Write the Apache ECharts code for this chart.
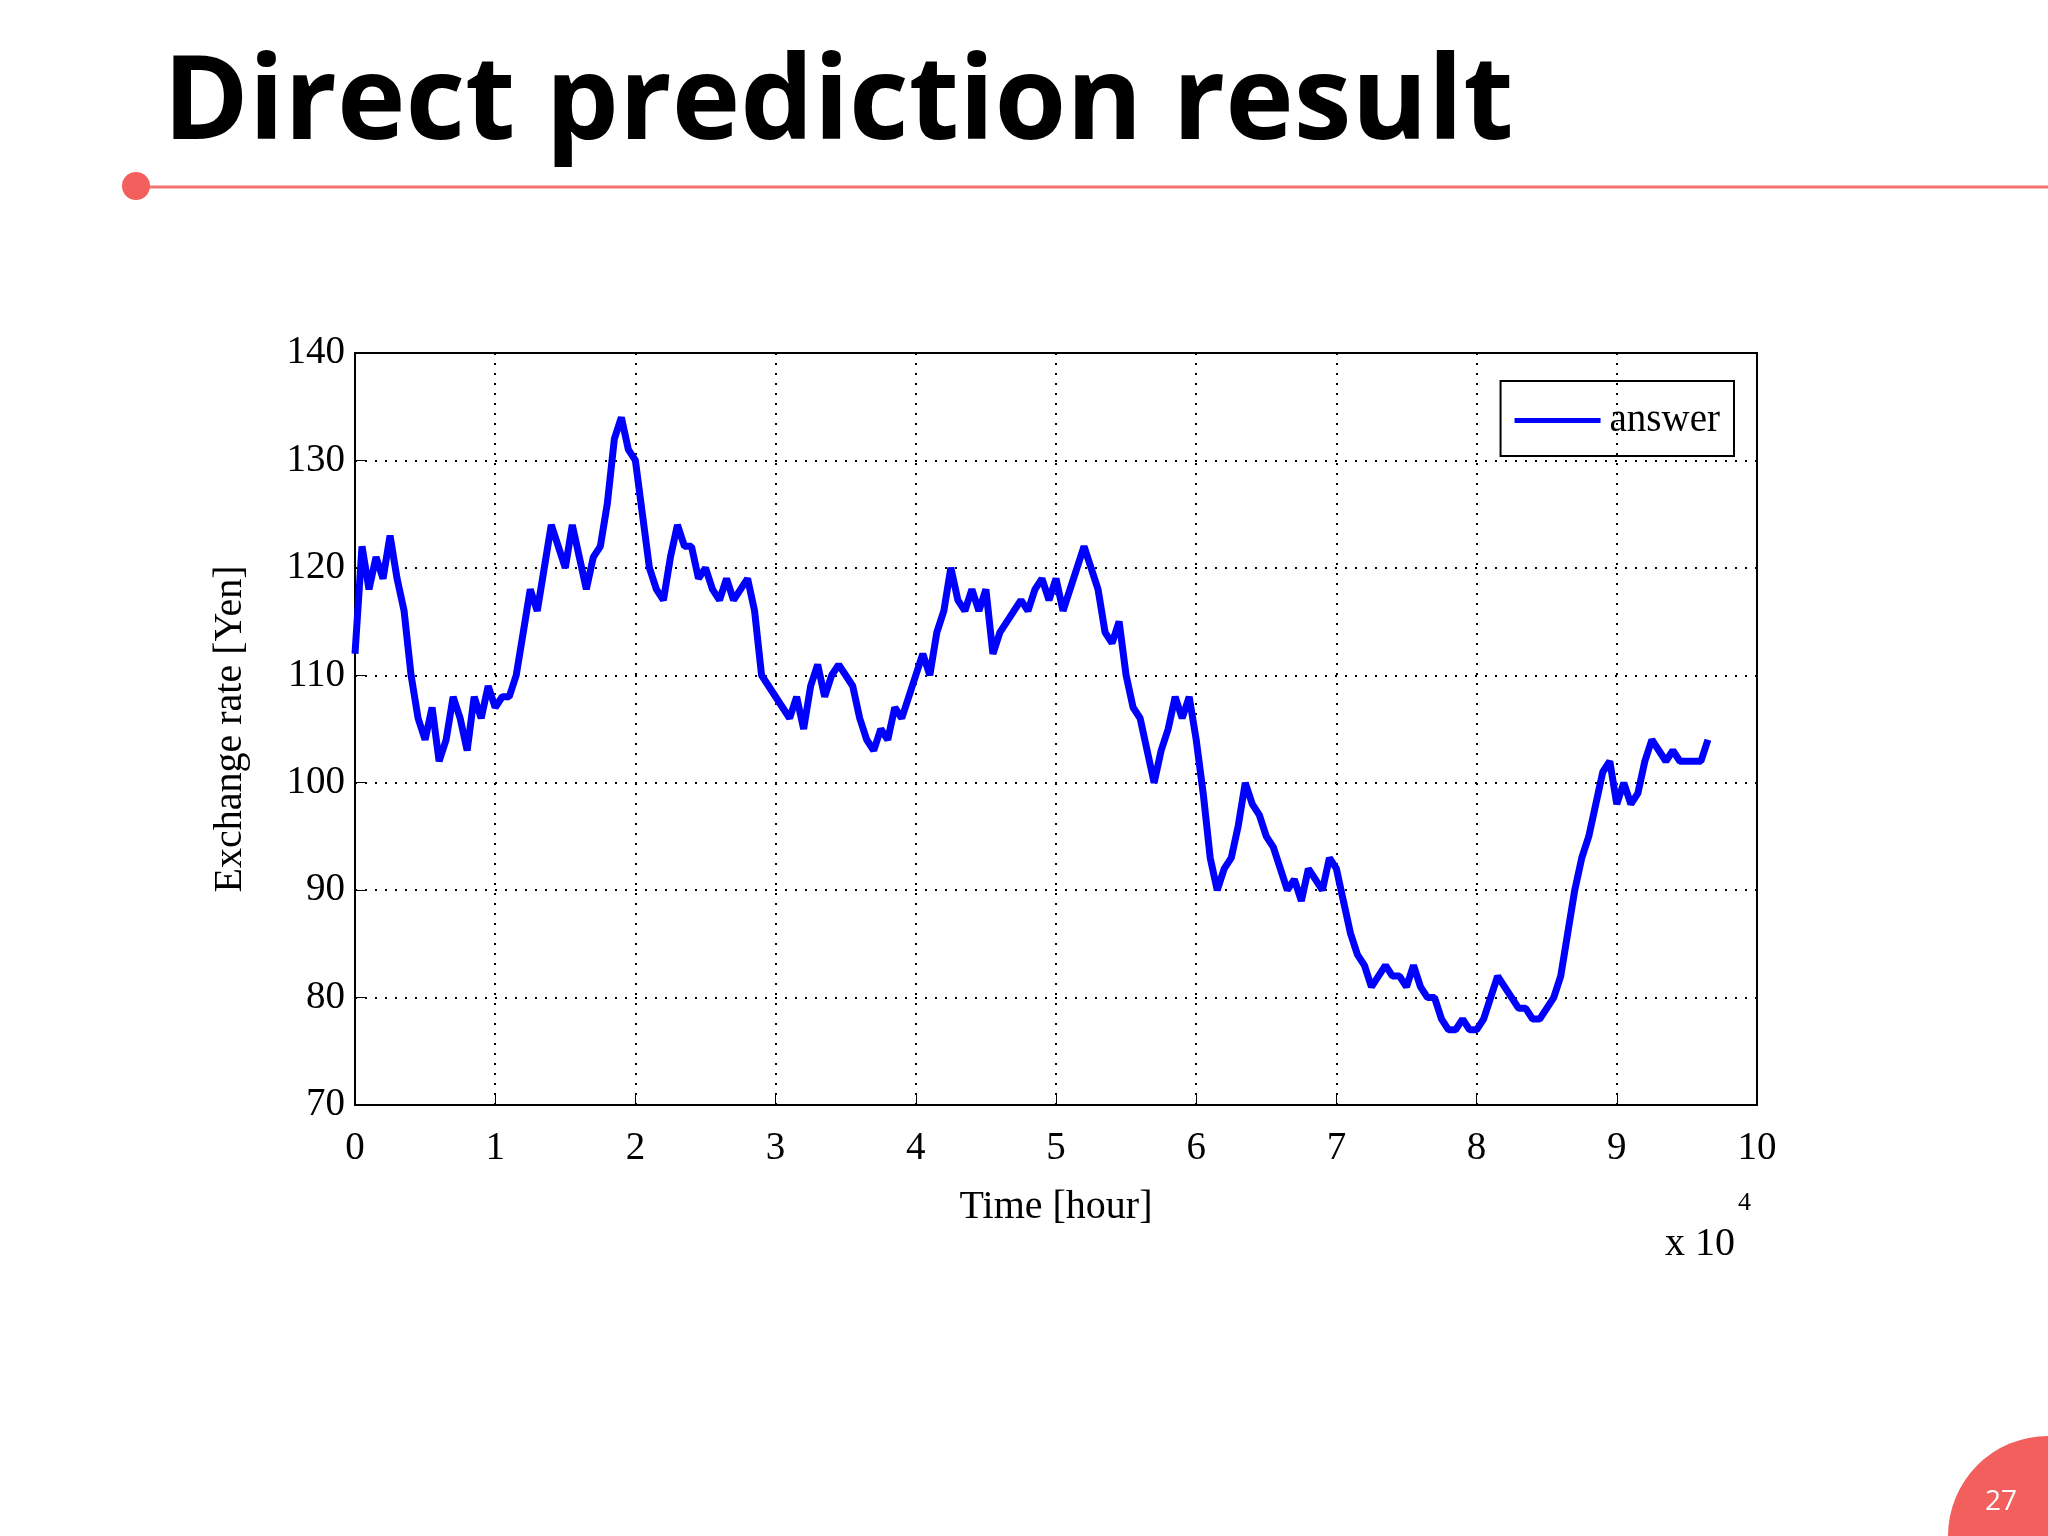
<!DOCTYPE html>
<html><head><meta charset="utf-8">
<script src="https://cdn.jsdelivr.net/npm/echarts@6/dist/echarts.min.js"></script>
<style>html,body{margin:0;padding:0;background:#fff}#c{width:2048px;height:1536px}</style>
</head><body><div id="c"></div>
<script>
const xStep = 0.05;
const answer = [112,122,118,121,119,123,119,116,110,106,104,107,102,104,108,106,103,108,106,109,
107,108,108,110,114,118,116,120,124,122,120,124,121,118,121,122,126,132,134,131,
130,125,120,118,117,121,124,122,122,119,120,118,117,119,117,118,119,116,110,109,
108,107,106,108,105,109,111,108,110,111,110,109,106,104,103,105,104,107,106,108,
110,112,110,114,116,120,117,116,118,116,118,112,114,115,116,117,116,118,119,117,
119,116,118,120,122,120,118,114,113,115,110,107,106,103,100,103,105,108,106,108,
104,99,93,90,92,93,96,100,98,97,95,94,92,90,91,89,92,91,90,93,
92,89,86,84,83,81,82,83,82,82,81,83,81,80,80,78,77,77,78,77,
77,78,80,82,81,80,79,79,78,78,79,80,82,86,90,93,95,98,101,102,
98,100,98,99,102,104,103,102,103,102,102,102,102,104];
const xTicks = [0,1,2,3,4,5,6,7,8,9,10];
const data = answer.map((v,i)=>[+(i*xStep).toFixed(2), v]);
const serif = 'Liberation Serif';
const chart = echarts.init(document.getElementById('c'));
chart.setOption({
  backgroundColor:'#fff',
  animation:false,
  grid:{left:355,right:291,top:353,bottom:431,show:true,borderColor:'#000',borderWidth:2},
  xAxis:{type:'value',min:0,max:10,interval:1,
    axisLine:{lineStyle:{color:'#000',width:2}},
    axisTick:{inside:true,length:10,lineStyle:{color:'#000'}},
    axisLabel:{color:'#000',fontFamily:serif,fontSize:39,margin:24},
    splitLine:{show:true,lineStyle:{color:'#000',type:[2,8],width:2}},
    name:'Time [hour]',nameLocation:'middle',nameGap:82,
    nameTextStyle:{color:'#000',fontFamily:serif,fontSize:40}},
  yAxis:{type:'value',min:70,max:140,interval:10,
    axisLine:{lineStyle:{color:'#000',width:2}},
    axisTick:{inside:true,length:10,lineStyle:{color:'#000'}},
    axisLabel:{color:'#000',fontFamily:serif,fontSize:39,margin:10},
    splitLine:{show:true,lineStyle:{color:'#000',type:[2,8],width:2}},
    name:'Exchange rate [Yen]',nameLocation:'middle',nameGap:105,
    nameTextStyle:{color:'#000',fontFamily:serif,fontSize:40}},
  legend:{right:314,top:381,orient:'vertical',borderColor:'#000',borderWidth:2,
    padding:[20,14,16,14],itemWidth:86,itemHeight:5,itemGap:10,
    textStyle:{color:'#000',fontFamily:serif,fontSize:39,padding:[14,0,0,4]},
    data:[{name:'answer',icon:'rect'}]},
  series:[{name:'answer',type:'line',data:data,showSymbol:false,
    lineStyle:{color:'#0000ff',width:7},itemStyle:{color:'#0000ff'}}],
  graphic:[
    {type:'text',left:163,top:48,style:{text:'Direct prediction result',fontFamily:'Open Sans',fontWeight:'bold',fontSize:116,fill:'#000'}},
    {type:'line',shape:{x1:140,y1:187,x2:2048,y2:187},style:{stroke:'#f47272',lineWidth:3}},
    {type:'circle',shape:{cx:136,cy:186,r:14},style:{fill:'#f25f5c'}},
    {type:'circle',shape:{cx:2048,cy:1536,r:100},style:{fill:'#f25f5c'}},
    {type:'text',x:1985,y:1488,style:{text:'27',fontFamily:'Open Sans',fontSize:28,fill:'#fff'}},
    {type:'text',x:1665,y:1224,style:{text:'x 10',fontFamily:serif,fontSize:40,fill:'#000'}},
    {type:'text',x:1738,y:1190,style:{text:'4',fontFamily:serif,fontSize:26,fill:'#000'}}
  ]
});
</script></body></html>
